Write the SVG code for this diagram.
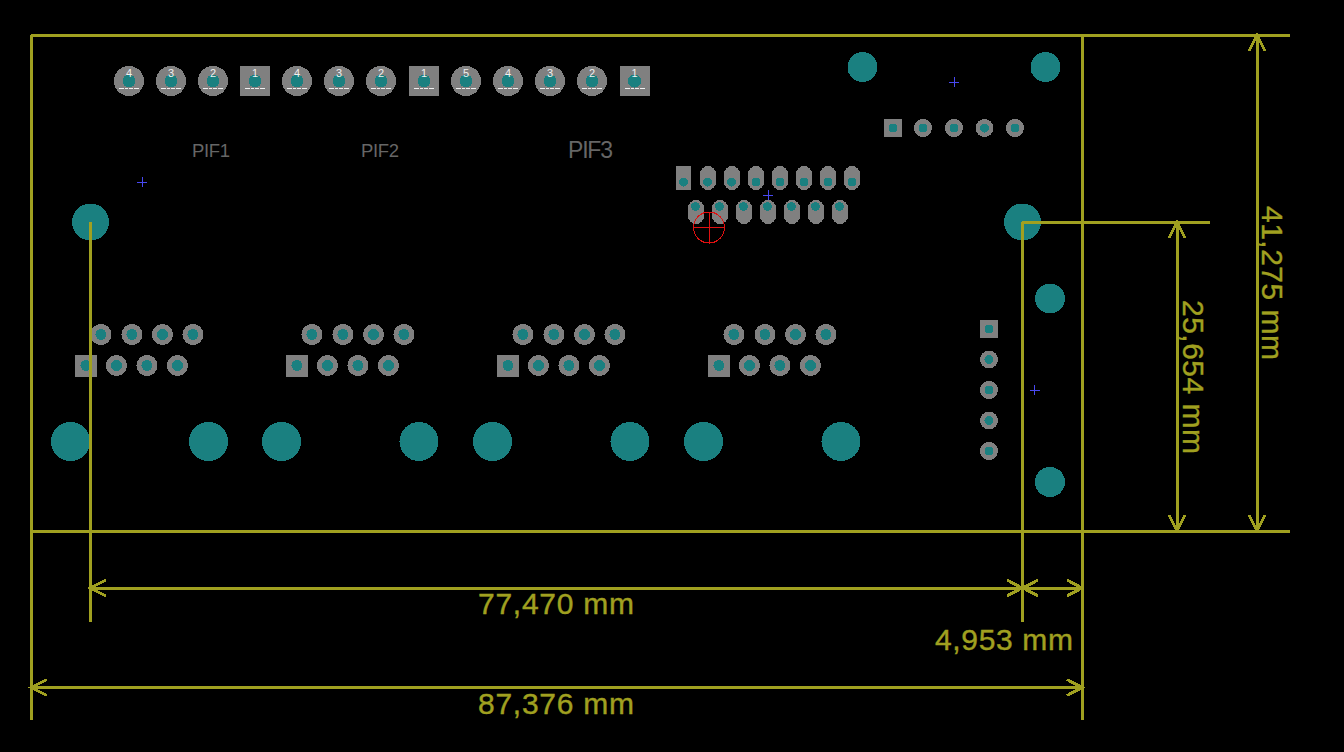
<svg xmlns="http://www.w3.org/2000/svg" xmlns:xlink="http://www.w3.org/1999/xlink" width="1344" height="752" viewBox="0 0 1344 752" shape-rendering="crispEdges">
<style>
.g{fill:#808080}
.t{fill:#1a8080}
.dim{stroke:#a0a020;stroke-width:3;fill:none}
.dt{fill:#a0a020;stroke:#a0a020;stroke-width:.4;font-family:"Liberation Sans",Arial,sans-serif;font-size:30px;text-anchor:middle}
.pn{fill:#f0f0f0;font-family:"Liberation Sans",Arial,sans-serif;font-size:11px;text-anchor:middle}
.ref{fill:#666666;font-family:"Liberation Sans",Arial,sans-serif;font-size:18.500px;text-anchor:middle}
.bl{stroke:#4848f0;stroke-width:1;fill:none}
.mk{stroke:#f0f0f0;stroke-width:1;stroke-dasharray:5 1 3 1 4 1 6}
</style>
<defs>
<g id="pr"><circle r="15" class="g"/><circle r="6.500" class="t"/><path class="mk" d="M-10 7.500H10"/></g>
<g id="ps"><rect x="-15" y="-15" width="30" height="30" class="g"/><circle r="6.500" class="t"/><path class="mk" d="M-10 7.500H10"/></g>
<g id="mr"><circle r="10.500" class="g"/><circle r="5.500" class="t"/></g>
<g id="ms"><rect x="-11" y="-11" width="22" height="22" class="g"/><circle r="5.500" class="t"/></g>
<g id="sr"><circle r="9" class="g"/><circle r="4.500" class="t"/></g>
<g id="ss"><rect x="-9" y="-9" width="18" height="18" class="g"/><circle r="4.500" class="t"/></g>
<rect id="ov" x="-8" y="-12" width="16" height="24" rx="8" class="g"/>
<path id="plus" class="bl" d="M-5 0H5M0 -5V5"/>
<g id="rj">
<use xlink:href="#mr" x="15" y="-31"/><use xlink:href="#mr" x="46" y="-31"/><use xlink:href="#mr" x="76.500" y="-31"/><use xlink:href="#mr" x="107" y="-31"/>
<use xlink:href="#ms" x="0" y="0"/><use xlink:href="#mr" x="30.500" y="0"/><use xlink:href="#mr" x="61" y="0"/><use xlink:href="#mr" x="91.500" y="0"/>
</g>
</defs>
<rect width="1344" height="752" fill="#000"/>
<g id="PIF1">
<use xlink:href="#pr" x="129" y="81"/><text class="pn" x="129" y="77">4</text>
<use xlink:href="#pr" x="171" y="81"/><text class="pn" x="171" y="77">3</text>
<use xlink:href="#pr" x="213" y="81"/><text class="pn" x="213" y="77">2</text>
<use xlink:href="#ps" x="255" y="81"/><text class="pn" x="255" y="77">1</text>
<text class="ref" x="211" y="157" textLength="38">PIF1</text>
</g>
<g id="PIF2">
<use xlink:href="#pr" x="297" y="81"/><text class="pn" x="297" y="77">4</text>
<use xlink:href="#pr" x="339" y="81"/><text class="pn" x="339" y="77">3</text>
<use xlink:href="#pr" x="381" y="81"/><text class="pn" x="381" y="77">2</text>
<use xlink:href="#ps" x="424" y="81"/><text class="pn" x="424" y="77">1</text>
<text class="ref" x="380" y="157" textLength="38">PIF2</text>
</g>
<g id="PIF3">
<use xlink:href="#pr" x="466" y="81"/><text class="pn" x="466" y="77">5</text>
<use xlink:href="#pr" x="508" y="81"/><text class="pn" x="508" y="77">4</text>
<use xlink:href="#pr" x="550" y="81"/><text class="pn" x="550" y="77">3</text>
<use xlink:href="#pr" x="592" y="81"/><text class="pn" x="592" y="77">2</text>
<use xlink:href="#ps" x="634.500" y="81"/><text class="pn" x="634.500" y="77">1</text>
<text class="ref" x="590.500" y="158" style="font-size:23px" textLength="45">PIF3</text>
</g>
<g id="header5">
<use xlink:href="#ss" x="893" y="128"/><use xlink:href="#sr" x="923" y="128"/><use xlink:href="#sr" x="954" y="128"/><use xlink:href="#sr" x="984.500" y="128"/><use xlink:href="#sr" x="1015" y="128"/>
</g>
<g id="header5v">
<use xlink:href="#ss" x="989" y="329"/><use xlink:href="#sr" x="989" y="359.500"/><use xlink:href="#sr" x="989" y="390"/><use xlink:href="#sr" x="989" y="420.500"/><use xlink:href="#sr" x="989" y="451"/>
</g>
<g id="connector15">
<rect x="676" y="166" width="15" height="24" class="g"/>
<use xlink:href="#ov" x="708" y="178"/><use xlink:href="#ov" x="732" y="178"/><use xlink:href="#ov" x="756" y="178"/><use xlink:href="#ov" x="780" y="178"/><use xlink:href="#ov" x="804" y="178"/><use xlink:href="#ov" x="828" y="178"/><use xlink:href="#ov" x="852" y="178"/>
<use xlink:href="#ov" x="696" y="212"/><use xlink:href="#ov" x="720" y="212"/><use xlink:href="#ov" x="744" y="212"/><use xlink:href="#ov" x="768" y="212"/><use xlink:href="#ov" x="792" y="212"/><use xlink:href="#ov" x="816" y="212"/><use xlink:href="#ov" x="840" y="212"/>
<g class="t">
<circle cx="683.500" cy="182" r="4.500"/><circle cx="707.500" cy="182" r="4.500"/><circle cx="731.500" cy="182" r="4.500"/><circle cx="756" cy="182" r="4.500"/><circle cx="780" cy="182" r="4.500"/><circle cx="804" cy="182" r="4.500"/><circle cx="828" cy="182" r="4.500"/><circle cx="852" cy="182" r="4.500"/>
<circle cx="695.500" cy="206.500" r="4.500"/><circle cx="719.500" cy="206.500" r="4.500"/><circle cx="743.500" cy="206.500" r="4.500"/><circle cx="767.500" cy="206.500" r="4.500"/><circle cx="791.500" cy="206.500" r="4.500"/><circle cx="815.500" cy="206.500" r="4.500"/><circle cx="839.500" cy="206.500" r="4.500"/>
</g>
</g>
<g id="rj1"><use xlink:href="#rj" x="86" y="365.500"/></g>
<g id="rj2"><use xlink:href="#rj" x="297" y="365.500"/></g>
<g id="rj3"><use xlink:href="#rj" x="508" y="365.500"/></g>
<g id="rj4"><use xlink:href="#rj" x="719" y="365.500"/></g>
<g id="mounting" class="t">
<circle cx="70.500" cy="441.500" r="19.500"/><circle cx="208.500" cy="441.500" r="19.500"/><circle cx="281.500" cy="441.500" r="19.500"/><circle cx="419" cy="441.500" r="19.500"/><circle cx="492.500" cy="441.500" r="19.500"/><circle cx="630" cy="441.500" r="19.500"/><circle cx="703.500" cy="441.500" r="19.500"/><circle cx="841" cy="441.500" r="19.500"/>
<circle cx="90.500" cy="222" r="18.500"/><circle cx="1022.500" cy="222" r="18.500"/>
<circle cx="862.500" cy="67" r="15"/><circle cx="1045.500" cy="67" r="15"/><circle cx="1050" cy="298.500" r="15"/><circle cx="1050" cy="482" r="15"/>
</g>
<g id="marks">
<use xlink:href="#plus" x="142" y="182"/><use xlink:href="#plus" x="954" y="82"/><use xlink:href="#plus" x="768" y="195"/><use xlink:href="#plus" x="1034.500" y="390"/>
<g stroke="#e01010" stroke-width="1" fill="none"><circle cx="709" cy="227.500" r="15.500"/><path d="M693 227.500H725M709 211.500V243.500"/></g>
</g>
<g id="connectors" class="dim">
<path d="M31 35H1290M31 531H1290M31 35V720M1082 35V720"/>
<path d="M90 222V622M1022.500 222V622M1022 222.500H1210"/>
<path d="M90 588H1082M31 687.500H1082M1257 35V531M1177 222V531"/>
<path d="M106 580L90 588L106 596M1007 580L1022 588L1007 596M1038 580L1023 588L1038 596M1067 580L1082 588L1067 596"/>
<path d="M47 679.500L31 687.500L47 695.500M1067 679.500L1082 687.500L1067 695.500"/>
<path d="M1249 51L1257 35L1265 51M1249 515L1257 531L1265 515"/>
<path d="M1169 238L1177 222L1185 238M1169 515L1177 531L1185 515"/>
</g>
<g id="dimension-labels">
<text class="dt" x="556" y="614" textLength="156">77,470 mm</text>
<text class="dt" x="556" y="714" textLength="156">87,376 mm</text>
<text class="dt" x="1004" y="650" textLength="138">4,953 mm</text>
<text class="dt" transform="translate(1262,283) rotate(90)" textLength="154">41,275 mm</text>
<text class="dt" transform="translate(1183,377) rotate(90)" textLength="154">25,654 mm</text>
</g>
</svg>
